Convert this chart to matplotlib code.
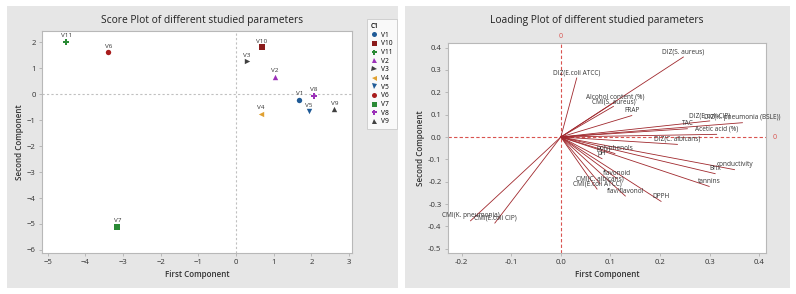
import matplotlib
matplotlib.use("Agg")
import matplotlib.pyplot as plt
from matplotlib.patches import Rectangle
from matplotlib.lines import Line2D

plt.rcParams['font.family'] = ['Open Sans', 'DejaVu Sans']

# ---- Score plot data ----
score_names = ["V1", "V10", "V11", "V2", "V3", "V4", "V5", "V6", "V7", "V8", "V9"]
score_pc1 = [1.68, 0.68, -4.50, 1.03, 0.29, 0.67, 1.94, -3.39, -3.15, 2.07, 2.61]
score_pc2 = [-0.21, 1.82, 2.02, 0.68, 1.28, -0.75, -0.65, 1.63, -5.11, -0.06, -0.57]
score_markers = ["o", "s", "P", "^", ">", "<", "v", "o", "s", "P", "^"]
score_colors = ["#1f5a96", "#8b1c1c", "#2a8a35", "#9b30b8", "#404040", "#e0a030",
                "#1f5a96", "#a81c1c", "#2a8a35", "#9b30b8", "#404040"]

# ---- Loading plot data ----
load_names = ["DIZ(S. aureus)", "DIZ(E.coli ATCC)", "Alcohol content (%)", "CMI(S. aureus)",
              "FRAP", "DIZ(E.coli CIP)", "DIZ(K. pneumonia (BSLE))", "TAC", "Acetic acid (%)",
              "DIZ(C. albicans)", "polyphenols", "pH", "conductivity", "Brix", "tannins",
              "flavonoid", "CMI(C. albicans)", "CMI(E.coli ATCC)", "flav/flavonol", "DPPH",
              "CMI(K. pneumonia)", "CMI(E.coli CIP)"]
load_pc1 = [0.247, 0.032, 0.109, 0.106, 0.143, 0.300, 0.366, 0.255, 0.314,
            0.235, 0.109, 0.083, 0.350, 0.311, 0.299,
            0.113, 0.079, 0.073, 0.130, 0.202, -0.182, -0.133]
load_pc2 = [0.358, 0.264, 0.157, 0.137, 0.096, 0.072, 0.064, 0.037, 0.012,
            -0.033, -0.074, -0.097, -0.146, -0.164, -0.221,
            -0.186, -0.209, -0.233, -0.264, -0.288, -0.375, -0.385]

fig = plt.figure(figsize=(7.96, 2.94), dpi=100)
W, H = 796, 294

def fx(px):
    return px / W

def fy(py):
    return 1 - py / H

panel_col = "#e6e6e6"
fig.patches.append(Rectangle((fx(7), fy(288)), fx(391), 282 / H, transform=fig.transFigure,
                             facecolor=panel_col, edgecolor="none", zorder=-10))
fig.patches.append(Rectangle((fx(405), fy(288)), fx(385), 282 / H, transform=fig.transFigure,
                             facecolor=panel_col, edgecolor="none", zorder=-10))

tick_col = "#333333"
spine_col = "#b8b8b8"
TICK_FS = 5.6
LAB_FS = 5.8
TITLE_FS = 7.4

def style_ax(ax):
    ax.set_facecolor("white")
    for s in ax.spines.values():
        s.set_color(spine_col)
        s.set_linewidth(0.8)
    ax.tick_params(axis="both", labelsize=TICK_FS, colors=spine_col, labelcolor=tick_col,
                   length=2.5, width=0.7, pad=2)

# ---------------- Score plot ----------------
ax1 = fig.add_axes([fx(42), fy(253), fx(310), 222 / H])
style_ax(ax1)
ax1.set_xlim(-5.15, 3.08)
ax1.set_ylim(-6.12, 2.44)
ax1.set_xticks(range(-5, 4))
ax1.set_yticks(range(-6, 3))
ax1.axhline(0, color="#c0c0c0", lw=0.8, ls=(0, (2, 2)), zorder=1)
ax1.axvline(0, color="#c0c0c0", lw=0.8, ls=(0, (2, 2)), zorder=1)
handles = []
for n, x, y, m, c in zip(score_names, score_pc1, score_pc2, score_markers, score_colors):
    ax1.scatter([x], [y], marker=m, s=15, color=c, zorder=3, linewidths=0)
    ax1.annotate(n, (x, y), xytext=(0, 2.5), textcoords="offset points", ha="center",
                 va="bottom", fontsize=4.6, color="#333333")
    handles.append(Line2D([], [], marker=m, color=c, ls="none", markersize=3.6,
                          markeredgewidth=0, label=n))
ax1.set_xlabel("First Component", fontsize=LAB_FS, fontweight="semibold", color="#333333", labelpad=3)
ax1.set_ylabel("Second Component", fontsize=LAB_FS, fontweight="semibold", color="#333333", labelpad=2)
fig.text(fx(202), fy(20), "Score Plot of different studied parameters", ha="center",
         va="center", fontsize=TITLE_FS, color="#222222")

leg = fig.legend(handles=handles, title="C1", loc="upper left",
                 bbox_to_anchor=(fx(367), fy(19)), bbox_transform=fig.transFigure,
                 fontsize=4.8, title_fontsize=4.8, frameon=True, fancybox=False,
                 borderpad=0.6, labelspacing=0.25, handletextpad=0.5, handlelength=1.0,
                 borderaxespad=0)
leg.get_frame().set_edgecolor("#c8c8c8")
leg.get_frame().set_linewidth(0.7)
leg.get_title().set_fontweight("semibold")
leg._legend_box.align = "left"
leg.set_zorder(5)

# ---------------- Loading plot ----------------
ax2 = fig.add_axes([fx(447.7), fy(253), fx(318.3), 210.3 / H])
style_ax(ax2)
ax2.set_xlim(-0.228, 0.4135)
ax2.set_ylim(-0.519, 0.422)
ax2.set_xticks([-0.2, -0.1, 0.0, 0.1, 0.2, 0.3, 0.4])
ax2.set_yticks([-0.5, -0.4, -0.3, -0.2, -0.1, 0.0, 0.1, 0.2, 0.3, 0.4])
ax2.xaxis.set_major_formatter(plt.FormatStrFormatter("%.1f"))
ax2.yaxis.set_major_formatter(plt.FormatStrFormatter("%.1f"))
ref_col = "#d9534f"
ax2.axhline(0, color=ref_col, lw=0.8, ls=(0, (3, 2)), zorder=1)
ax2.axvline(0, color=ref_col, lw=0.8, ls=(0, (3, 2)), zorder=1)
ax2.text(0, 1.015, "0", transform=ax2.get_xaxis_transform(), ha="center", va="bottom",
         fontsize=5.2, color=ref_col)
ax2.text(1.02, 0, "0", transform=ax2.get_yaxis_transform(), ha="left", va="center",
         fontsize=5.2, color=ref_col)
for n, x, y in zip(load_names, load_pc1, load_pc2):
    ax2.plot([0, x], [0, y], color="#a0282d", lw=0.6, zorder=2)
    ax2.annotate(n, (x, y), xytext=(0, 1), textcoords="offset points", ha="center",
                 va="bottom", fontsize=4.7, color="#333333", zorder=3)
ax2.set_xlabel("First Component", fontsize=LAB_FS, fontweight="semibold", color="#333333", labelpad=3)
ax2.set_ylabel("Second Component", fontsize=LAB_FS, fontweight="semibold", color="#333333", labelpad=2)
fig.text(fx(597), fy(20), "Loading Plot of different studied parameters", ha="center",
         va="center", fontsize=TITLE_FS, color="#222222")

fig.savefig("out.png", dpi=100, facecolor="white")
